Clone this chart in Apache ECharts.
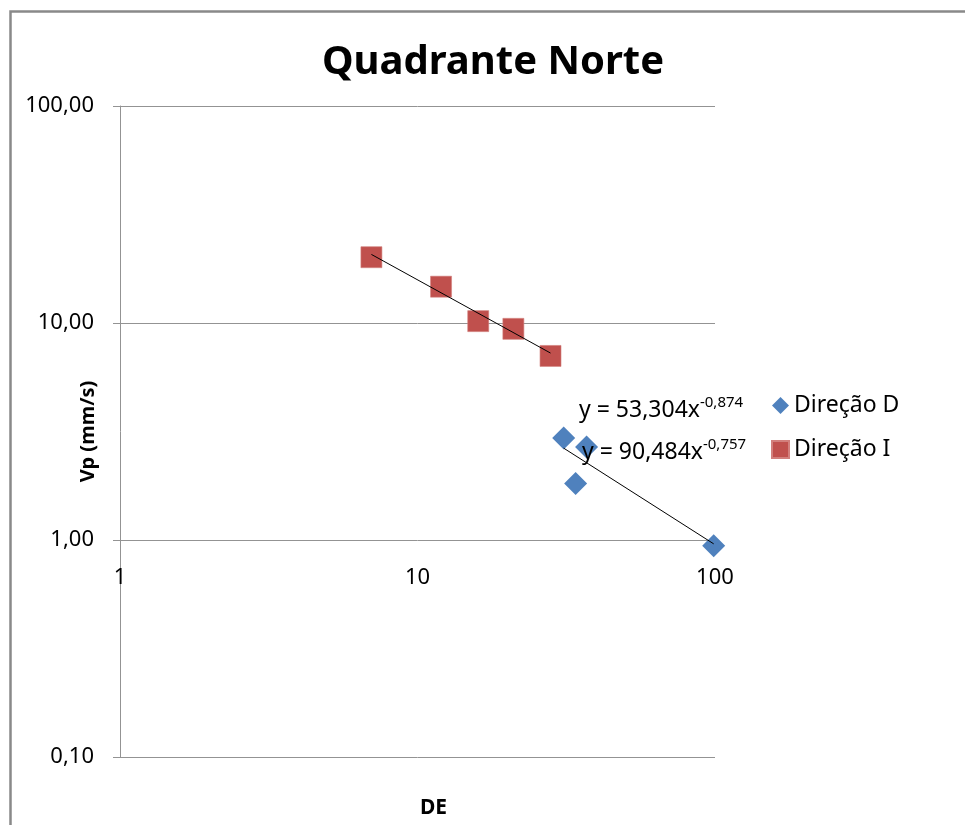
<!DOCTYPE html>
<html>
<head>
<meta charset="utf-8">
<script src="https://cdn.jsdelivr.net/npm/echarts@6/dist/echarts.min.js"></script>
<style>
html,body{margin:0;padding:0;background:#fff;}
#chart{width:965px;height:825px;}
</style>
</head>
<body>
<div id="chart"></div>
<script>
// Data
const dirD_x = [31, 37, 34, 99];
const dirD_y = [2.95, 2.68, 1.82, 0.94];
const dirI_x = [7, 12, 16, 21, 28];
const dirI_y = [20.1, 14.7, 10.2, 9.4, 7.05];
// Trend line endpoints (power fits shown as straight lines on log-log axes)
const trendD_x = [31, 99];
const trendD_y = [2.65, 0.96];
const trendI_x = [7, 28];
const trendI_y = [20.7, 7.27];
const eqD = ['y = 53,304x', '-0,874'];
const eqI = ['y = 90,484x', '-0,757'];

const pairs = (xs, ys) => xs.map((x, i) => [x, ys[i]]);
const font = 'Noto Sans, sans-serif';

const chart = echarts.init(document.getElementById('chart'), null, {renderer: 'canvas'});
const eqRich = {
  b: {fontFamily: font, fontSize: 23, fill: '#000', verticalAlign: 'bottom'},
  s: {fontFamily: font, fontSize: 15, fill: '#000', verticalAlign: 'top', padding: [0, 0, 12, 0]}
};
chart.setOption({
  animation: false,
  backgroundColor: '#fff',
  title: {
    text: 'Quadrante Norte',
    left: 488, top: 38, textAlign: 'center',
    textStyle: {fontFamily: font, fontWeight: 'bold', fontSize: 40, color: '#000'}
  },
  grid: {left: 120, right: 250, top: 106, bottom: 68, containLabel: false, outerBoundsMode: 'none'},
  legend: {
    orient: 'vertical', left: 771, top: 394, itemGap: 21, padding: 0,
    itemWidth: 17, itemHeight: 17,
    textStyle: {fontFamily: font, fontSize: 23, color: '#000'},
    data: [{name: 'Direção D', icon: 'diamond'}, {name: 'Direção I', icon: 'rect'}]
  },
  xAxis: {
    type: 'log', logBase: 10, min: 1, max: 100,
    offset: -217,
    axisLine: {show: false},
    axisTick: {show: false},
    splitLine: {show: false},
    axisLabel: {fontFamily: font, fontSize: 22, color: '#000', margin: 27}
  },
  yAxis: {
    type: 'log', logBase: 10, min: 0.1, max: 100,
    name: 'Vp (mm/s)', nameLocation: 'middle', nameGap: 22, nameRotate: 90,
    nameMoveOverlap: false,
    nameTextStyle: {fontFamily: font, fontWeight: 'bold', fontSize: 20, color: '#000'},
    axisLine: {show: true, lineStyle: {color: '#939393', width: 1}},
    axisTick: {show: true, length: 7, lineStyle: {color: '#939393'}},
    splitLine: {show: true, lineStyle: {color: '#939393', width: 1}},
    axisLabel: {
      fontFamily: font, fontSize: 22, color: '#000', margin: 26,
      formatter: v => v.toFixed(2).replace('.', ',')
    }
  },
  series: [
    {
      name: 'Direção D', type: 'scatter', symbol: 'diamond', symbolSize: 23,
      itemStyle: {color: '#4F81BD', opacity: 1}, z: 3,
      data: pairs(dirD_x, dirD_y)
    },
    {
      name: 'Direção I', type: 'scatter', symbol: 'rect', symbolSize: 21,
      itemStyle: {color: '#C0504D', opacity: 1, borderColor: '#d27f7c', borderWidth: 0.6}, z: 3,
      data: pairs(dirI_x, dirI_y)
    },
    {
      name: 'trendD', type: 'line', symbol: 'none', z: 4,
      lineStyle: {color: '#000', width: 1}, data: pairs(trendD_x, trendD_y)
    },
    {
      name: 'trendI', type: 'line', symbol: 'none', z: 4,
      lineStyle: {color: '#000', width: 1}, data: pairs(trendI_x, trendI_y)
    }
  ],
  graphic: [
    {
      type: 'rect', left: 8, top: 9, z: -1, silent: true,
      shape: {width: 970, height: 830},
      style: {fill: 'none', stroke: '#898989', lineWidth: 2.5}
    },
    {
      type: 'text', left: 420, top: 798, z: 10,
      style: {
        text: 'DE', fontFamily: font, fontWeight: 'bold', fontSize: 21, fill: '#000'
      }
    },
    {
      type: 'text', left: 579, top: 395, z: 10,
      style: {rich: eqRich, text: '{b|' + eqD[0] + '}{s|' + eqD[1] + '}'}
    },
    {
      type: 'text', left: 582, top: 437, z: 10,
      style: {rich: eqRich, text: '{b|' + eqI[0] + '}{s|' + eqI[1] + '}'}
    }
  ]
});
</script>
</body>
</html>
